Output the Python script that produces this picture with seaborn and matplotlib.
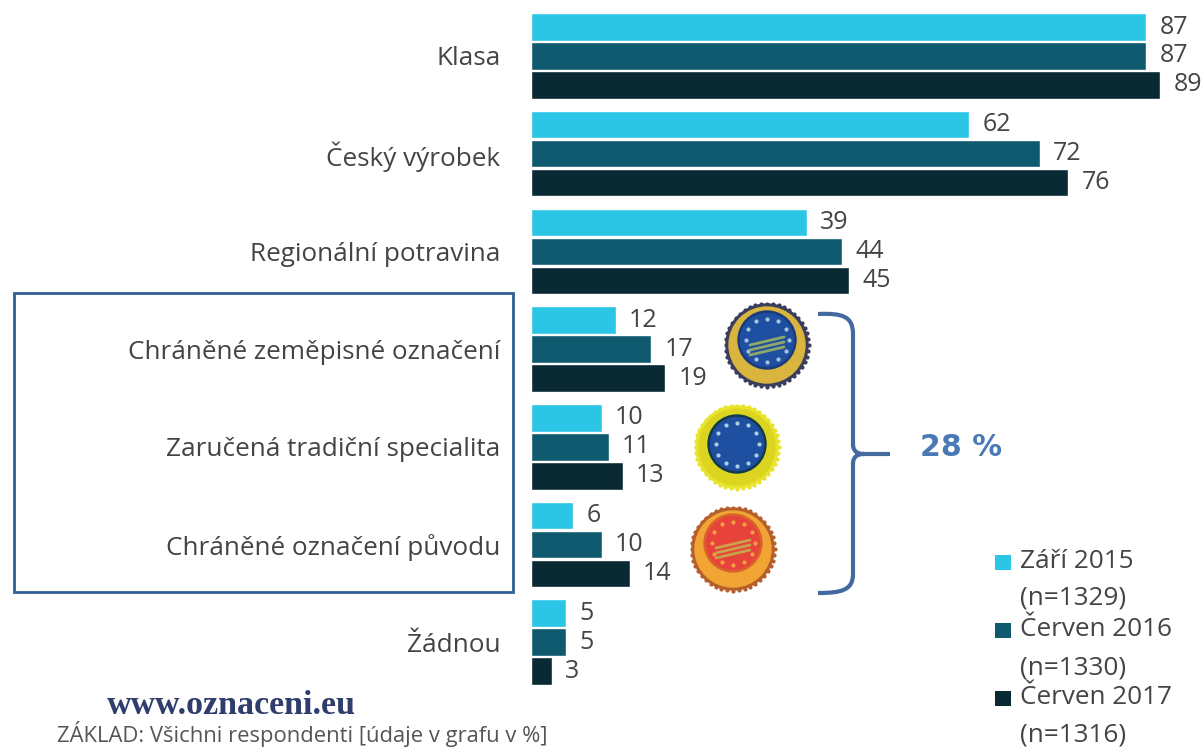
import numpy as np
import pandas as pd
import seaborn as sns
import matplotlib.pyplot as plt
from matplotlib.patches import Circle, Rectangle, PathPatch
from matplotlib.path import Path

categories = ["Klasa", "Český výrobek", "Regionální potravina",
              "Chráněné zeměpisné označení", "Zaručená tradiční specialita",
              "Chráněné označení původu", "Žádnou"]
zari_2015 = [87, 62, 39, 12, 10, 6, 5]
cerven_2016 = [87, 72, 44, 17, 11, 10, 5]
cerven_2017 = [89, 76, 45, 19, 13, 14, 3]
series_names = ["Září 2015", "Červen 2016", "Červen 2017"]
series_n = ["(n=1329)", "(n=1330)", "(n=1316)"]
colors = ["#2bc6e6", "#0f5a6e", "#0a2a33"]

df = pd.DataFrame({"Září 2015": zari_2015, "Červen 2016": cerven_2016,
                   "Červen 2017": cerven_2017, "kategorie": categories})
long_df = df.melt(id_vars="kategorie", var_name="obdobi", value_name="podil")

sns.set_theme(style="white")
plt.rcParams["font.family"] = ["Open Sans", "DejaVu Sans"]
TEXT = "#444444"

W, H = 1202, 749
fig = plt.figure(figsize=(W / 100, H / 100), dpi=100)
ax = fig.add_axes([531 / W, 0, (W - 531) / W, 1])

sns.barplot(data=long_df, y="kategorie", x="podil", hue="obdobi", order=categories,
            hue_order=series_names, palette=colors, saturation=1, width=0.89, gap=0.05,
            legend=False, ax=ax)
ax.set_xlim(0, (W - 531) / 7.07)
ax.set_ylim((H - 56) / 97.7, -56 / 97.7)
ax.set_xlabel("")
ax.set_ylabel("")
ax.set_xticks([])
ax.tick_params(axis="y", length=0, pad=22, labelsize=18.8, labelcolor=TEXT)
sns.despine(ax=ax, left=True, bottom=True)

for cont in ax.containers:
    ax.bar_label(cont, padding=9.5, fontsize=18, color=TEXT)

# overlay in pixel coordinates for the box, brace, seals, legend and notes
ov = fig.add_axes([0, 0, 1, 1], zorder=5)
ov.set_xlim(0, W)
ov.set_ylim(H, 0)
ov.axis("off")
ov.patch.set_alpha(0)

ov.add_patch(Rectangle((14, 293), 499, 299, fill=False, ec="#2f5f8f", lw=2))

# curly bracket
BLUE = "#44699f"
verts = [(818, 314), (842, 313), (853, 316), (853, 334),
         (853, 444),
         (853, 451), (857, 454), (864, 454),
         (857, 454), (853, 457), (853, 464),
         (853, 574),
         (853, 590), (842, 593), (818, 593)]
codes = [Path.MOVETO, Path.CURVE4, Path.CURVE4, Path.CURVE4,
         Path.LINETO,
         Path.CURVE4, Path.CURVE4, Path.CURVE4,
         Path.CURVE4, Path.CURVE4, Path.CURVE4,
         Path.LINETO,
         Path.CURVE4, Path.CURVE4, Path.CURVE4]
ov.add_patch(PathPatch(Path(verts, codes), fill=False, ec=BLUE, lw=3))
ov.plot([862, 890], [454, 454], color=BLUE, lw=3, solid_capstyle="butt")
ov.text(961, 448, "28 %", color="#4a7ab5", fontsize=21.5, fontweight="bold",
        family="DejaVu Sans", ha="center", va="center")


def seal(cx, cy, rim, gold, inner, star, edge, lift):
    teeth = np.linspace(0, 2 * np.pi, 44, endpoint=False)
    ov.scatter(cx + 41.5 * np.cos(teeth), cy + 41.5 * np.sin(teeth), s=9, color=rim, lw=0, zorder=2)
    ov.add_patch(Circle((cx, cy), 41, color=rim, zorder=3))
    ov.add_patch(Circle((cx, cy), 38, color=gold, zorder=3))
    ov.add_patch(Circle((cx, cy - lift), 29, color=edge, zorder=4))
    ov.add_patch(Circle((cx, cy - lift), 26.5, color=inner, zorder=5))
    a = np.linspace(0, 2 * np.pi, 12, endpoint=False)
    ov.scatter(cx + 21.5 * np.cos(a), cy - lift + 21.5 * np.sin(a), s=9, color=star, lw=0, zorder=6)


seal(767, 345, "#3a3d5c", "#d9b53f", "#1f4fa0", "#a9c4e0", "#1b3a7a", 5)
seal(737, 447, "#e8e42c", "#dcd520", "#1f4fa0", "#a9d0e0", "#123a4a", 3)
seal(733, 549, "#b5602a", "#f2a535", "#e8433a", "#f2a040", "#d9642a", 6)

# landscape strips inside the two outer seals
for cx, cy, c in [(767, 340, "#8fa868"), (733, 543, "#c9a24a")]:
    for dy in [2, 7, 12]:
        ov.plot([cx - 17, cx + 17], [cy + dy + 3, cy + dy - 5], color=c, lw=2, zorder=7)

# legend
name_y = [562, 630, 698]
n_y = [598, 668, 735]
for y, yn, col, name, n in zip(name_y, n_y, colors, series_names, series_n):
    ov.add_patch(Rectangle((995, y - 7.5), 16, 15, color=col, lw=0))
    ov.text(1020, y, name, fontsize=18.8, color=TEXT, va="center")
    ov.text(1020, yn, n, fontsize=18.8, color=TEXT, va="center")

ov.text(107, 705, "www.oznaceni.eu", family="Liberation Serif", fontsize=24.5,
        fontweight="bold", color="#2f3d6c", va="center")
ov.text(57, 734, "ZÁKLAD: Všichni respondenti [údaje v grafu v %]", fontsize=15.8,
        color="#555555", va="center")

fig.savefig("out.png", dpi=100)
